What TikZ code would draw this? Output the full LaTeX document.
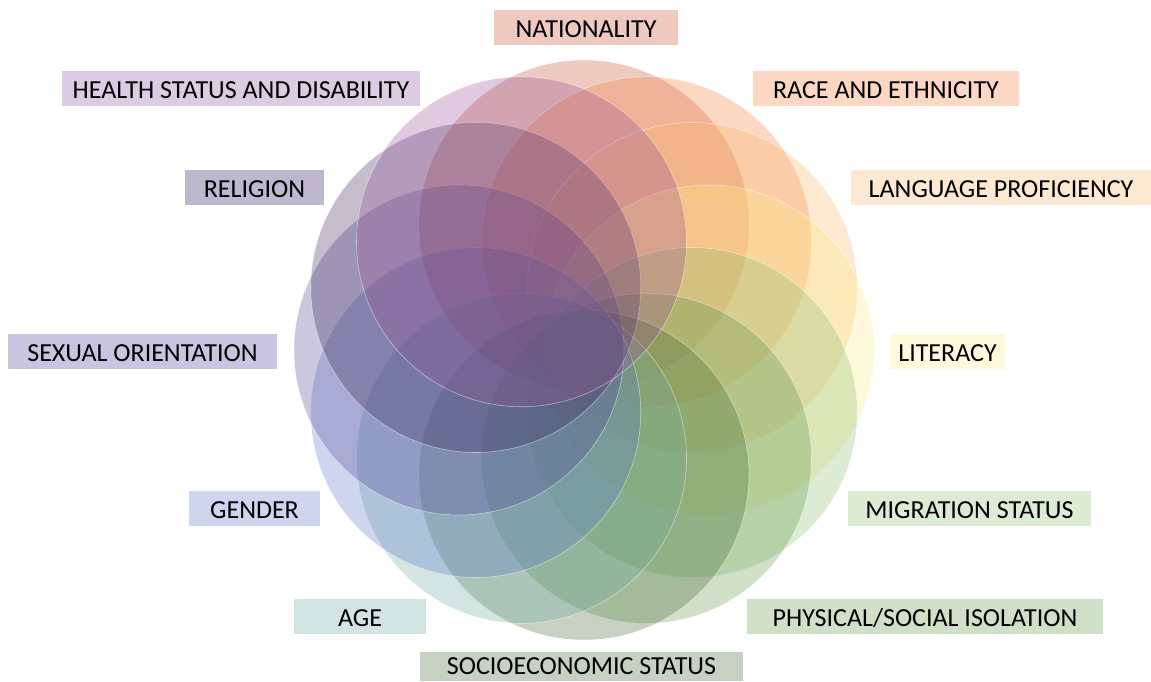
\documentclass[tikz,border=0pt]{standalone}
\usepackage{fontspec}
\setmainfont{Carlito}
% circle base colours
\definecolor{cNat}{RGB}{195,75,45}
\definecolor{cRac}{RGB}{245,125,58}
\definecolor{cLan}{RGB}{248,182,105}
\definecolor{cLit}{RGB}{252,235,132}
\definecolor{cMig}{RGB}{138,188,108}
\definecolor{cPhy}{RGB}{95,148,72}
\definecolor{cSoc}{RGB}{65,102,52}
\definecolor{cAge}{RGB}{108,168,158}
\definecolor{cGen}{RGB}{88,118,198}
\definecolor{cSex}{RGB}{80,70,150}
\definecolor{cRel}{RGB}{55,35,85}
\definecolor{cHea}{RGB}{150,80,150}
% label box colours
\definecolor{bNat}{RGB}{237,201,192}
\definecolor{bRac}{RGB}{252,216,196}
\definecolor{bLan}{RGB}{253,233,210}
\definecolor{bLit}{RGB}{254,249,218}
\definecolor{bMig}{RGB}{220,235,211}
\definecolor{bPhy}{RGB}{207,223,200}
\definecolor{bSoc}{RGB}{198,209,194}
\definecolor{bAge}{RGB}{211,229,226}
\definecolor{bGen}{RGB}{205,214,238}
\definecolor{bSex}{RGB}{201,197,225}
\definecolor{bRel}{RGB}{190,184,206}
\definecolor{bHea}{RGB}{221,202,227}
\begin{document}
\begin{tikzpicture}[x=1pt,y=-1pt,
  circ/.style={circle,minimum size=330pt,inner sep=0pt,fill opacity=0.3,
    draw=white,draw opacity=0.5,line width=0.6pt},
  lab/.style={inner sep=0pt,minimum height=35pt,text height=20.7pt,text depth=0pt,
    font=\fontsize{26}{30}\selectfont,text=black}]
\useasboundingbox (0,0) rectangle (1151,681);
\foreach \nm/\a/\c in {nat/90/cNat,rac/60/cRac,lan/30/cLan,lit/0/cLit,
    mig/-30/cMig,phy/-60/cPhy,soc/-90/cSoc,age/-120/cAge,gen/-150/cGen,
    sex/180/cSex,rel/150/cRel,hea/120/cHea}
  \node[circ,fill=\c] (\nm) at ({584+125*cos(\a)},{350-125*sin(\a)}) {};
\node[lab,fill=bNat,minimum width=184pt] (lnat) at (586,27) {NATIONALITY};
\node[lab,fill=bRac,minimum width=266pt] (lrac) at (886,88.5) {RACE AND ETHNICITY};
\node[lab,fill=bLan,minimum width=300pt] (llan) at (1001,187) {LANGUAGE PROFICIENCY};
\node[lab,fill=bLit,minimum width=115pt] (llit) at (947.5,351.5) {LITERACY};
\node[lab,fill=bMig,minimum width=243pt] (lmig) at (969.5,508.5) {MIGRATION STATUS};
\node[lab,fill=bPhy,minimum width=356pt] (lphy) at (925,616.5) {PHYSICAL/SOCIAL ISOLATION};
\node[lab,fill=bSoc,minimum width=323pt,minimum height=29pt,text height=16pt] (lsoc) at (581.5,666.5) {SOCIOECONOMIC STATUS};
\node[lab,fill=bAge,minimum width=132pt] (lage) at (360,616.5) {AGE};
\node[lab,fill=bGen,minimum width=131pt] (lgen) at (254.5,508.5) {GENDER};
\node[lab,fill=bSex,minimum width=269pt] (lsex) at (142.5,351.5) {SEXUAL ORIENTATION};
\node[lab,fill=bRel,minimum width=139pt] (lrel) at (254.5,187.5) {RELIGION};
\node[lab,fill=bHea,minimum width=358pt] (lhea) at (241,88.5) {HEALTH STATUS AND DISABILITY};
\end{tikzpicture}
\end{document}
